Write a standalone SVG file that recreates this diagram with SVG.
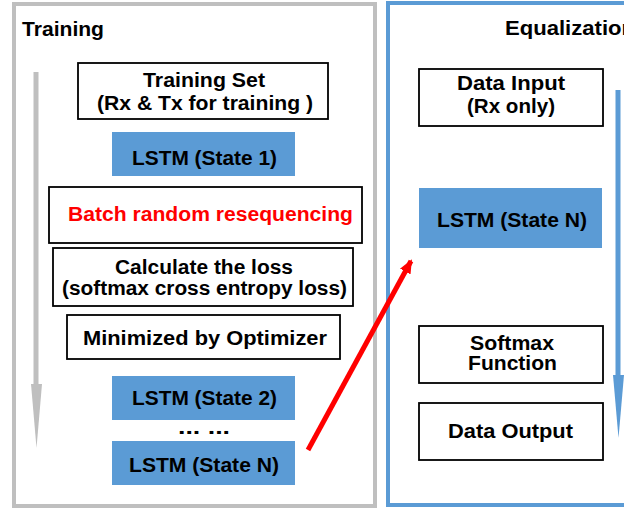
<svg xmlns="http://www.w3.org/2000/svg" width="624" height="510" viewBox="0 0 624 510">
<style>
text{font-family:"Liberation Sans",Arial,sans-serif;font-weight:bold;font-size:19.5px;fill:#000;text-anchor:middle}
.title{font-size:20.5px;text-anchor:start}
.box{fill:#fff;stroke:#000;stroke-width:1.8}
.lstm{fill:#5b9bd5;stroke:none}
.red{fill:#ff0000}
</style>
<defs>
<marker id="redhead" markerUnits="userSpaceOnUse" markerWidth="14" markerHeight="12" refX="12" refY="6" orient="auto">
<path d="M0,0 L14,6 L0,12 Z" fill="#ff0000"/>
</marker>
</defs>
<rect width="624" height="510" fill="#fff"/>
<g id="panel-training">
<rect x="14" y="4" width="361" height="502" fill="none" stroke="#bfbfbf" stroke-width="4"/>
<text class="title" x="22" y="36" textLength="82" lengthAdjust="spacingAndGlyphs">Training</text>
</g>
<g id="panel-equalization">
<rect x="388" y="3" width="250" height="502" fill="none" stroke="#5b9bd5" stroke-width="4"/>
<text class="title" x="505" y="35" textLength="130" lengthAdjust="spacingAndGlyphs">Equalization</text>
</g>
<g id="connectors">
<path d="M36,72 V384" stroke="#bfbfbf" stroke-width="5" fill="none"/>
<path d="M31,384 L42,384 L36.5,448 Z" fill="#bfbfbf"/>
<path d="M618,90 V375" stroke="#5b9bd5" stroke-width="5" fill="none"/>
<path d="M613,375 L624,375 L618.5,438 Z" fill="#5b9bd5"/>
<path d="M308,450 L411,261" stroke="#ff0000" stroke-width="5" fill="none" marker-end="url(#redhead)"/>
</g>
<g id="training-set">
<rect class="box" x="78" y="63" width="250" height="56"/>
<text x="204" y="87" textLength="122" lengthAdjust="spacingAndGlyphs">Training Set</text>
<text x="205" y="110" textLength="216" lengthAdjust="spacingAndGlyphs">(Rx &amp; Tx for training )</text>
</g>
<g id="lstm-state1">
<rect class="lstm" x="112" y="132" width="183" height="44"/>
<text x="204.5" y="165" textLength="145" lengthAdjust="spacingAndGlyphs">LSTM (State 1)</text>
</g>
<g id="batch-resequencing">
<rect class="box" x="49" y="187" width="313" height="56"/>
<text class="red" x="210.5" y="221" textLength="285" lengthAdjust="spacingAndGlyphs">Batch random resequencing</text>
</g>
<g id="calculate-loss">
<rect class="box" x="53" y="248" width="300" height="58"/>
<text x="204" y="274" textLength="178" lengthAdjust="spacingAndGlyphs">Calculate the loss</text>
<text x="204.5" y="295" textLength="285" lengthAdjust="spacingAndGlyphs">(softmax cross entropy loss)</text>
</g>
<g id="minimized-optimizer">
<rect class="box" x="67" y="315" width="273" height="44"/>
<text x="205" y="345" textLength="244" lengthAdjust="spacingAndGlyphs">Minimized by Optimizer</text>
</g>
<g id="lstm-state2">
<rect class="lstm" x="112" y="376" width="183" height="44"/>
<text x="204.5" y="405" textLength="145" lengthAdjust="spacingAndGlyphs">LSTM (State 2)</text>
</g>
<g id="ellipsis">
<text x="204" y="434" textLength="52" lengthAdjust="spacingAndGlyphs">... ...</text>
</g>
<g id="lstm-stateN-train">
<rect class="lstm" x="112" y="441" width="183" height="44"/>
<text x="204" y="472" textLength="150" lengthAdjust="spacingAndGlyphs">LSTM (State N)</text>
</g>
<g id="data-input">
<rect class="box" x="419" y="69" width="184" height="57"/>
<text x="511" y="90" textLength="108" lengthAdjust="spacingAndGlyphs">Data Input</text>
<text x="511" y="113" textLength="88" lengthAdjust="spacingAndGlyphs">(Rx only)</text>
</g>
<g id="lstm-stateN-eq">
<rect class="lstm" x="419" y="188" width="183" height="60"/>
<text x="512" y="227" textLength="150" lengthAdjust="spacingAndGlyphs">LSTM (State N)</text>
</g>
<g id="softmax-function">
<rect class="box" x="419" y="326" width="184" height="57"/>
<text x="512" y="350" textLength="84" lengthAdjust="spacingAndGlyphs">Softmax</text>
<text x="512.5" y="370" textLength="89" lengthAdjust="spacingAndGlyphs">Function</text>
</g>
<g id="data-output">
<rect class="box" x="419" y="403" width="184" height="57"/>
<text x="510.5" y="438" textLength="125" lengthAdjust="spacingAndGlyphs">Data Output</text>
</g>
</svg>
